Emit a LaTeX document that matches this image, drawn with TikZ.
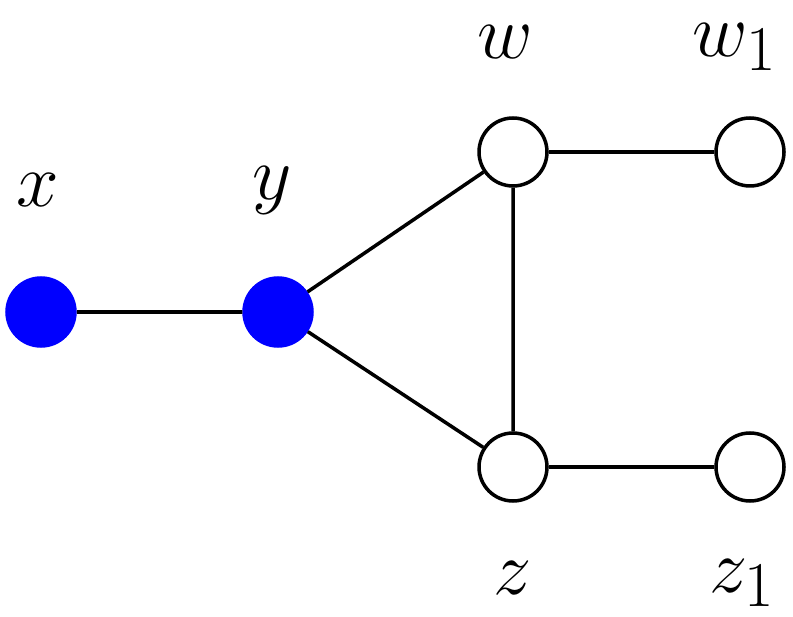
\documentclass[tikz,border=0pt]{standalone}
\begin{document}
\begin{tikzpicture}[x=0.02cm,y=-0.02cm,
  v/.style={circle,draw=black,line width=2pt,minimum size=1.36cm,inner sep=0pt},
  f/.style={v,draw=blue,fill=blue},
  e/.style={line width=2pt},
  lab/.style={font=\Huge,scale=1.75,transform shape}]
\useasboundingbox (0,0) rectangle (793,617);
\node[f] (x) at (41,312) {};
\node[f] (y) at (278,312) {};
\node[v] (w) at (513,152) {};
\node[v] (w1) at (750,152) {};
\node[v] (z) at (513,467) {};
\node[v] (z1) at (750,467) {};
\draw[e] (x)--(y) (y)--(w) (y)--(z) (w)--(z) (w)--(w1) (z)--(z1);
\node[lab] (lx) at (38,190) {$x$};
\node[lab] (ly) at (272,190) {$y$};
\node[lab] (lw) at (505,42) {$w$};
\node[lab] (lw1) at (735,47) {$w_1$};
\node[lab] (lz) at (513,578) {$z$};
\node[lab] (lz1) at (742,583) {$z_1$};
\end{tikzpicture}
\end{document}
